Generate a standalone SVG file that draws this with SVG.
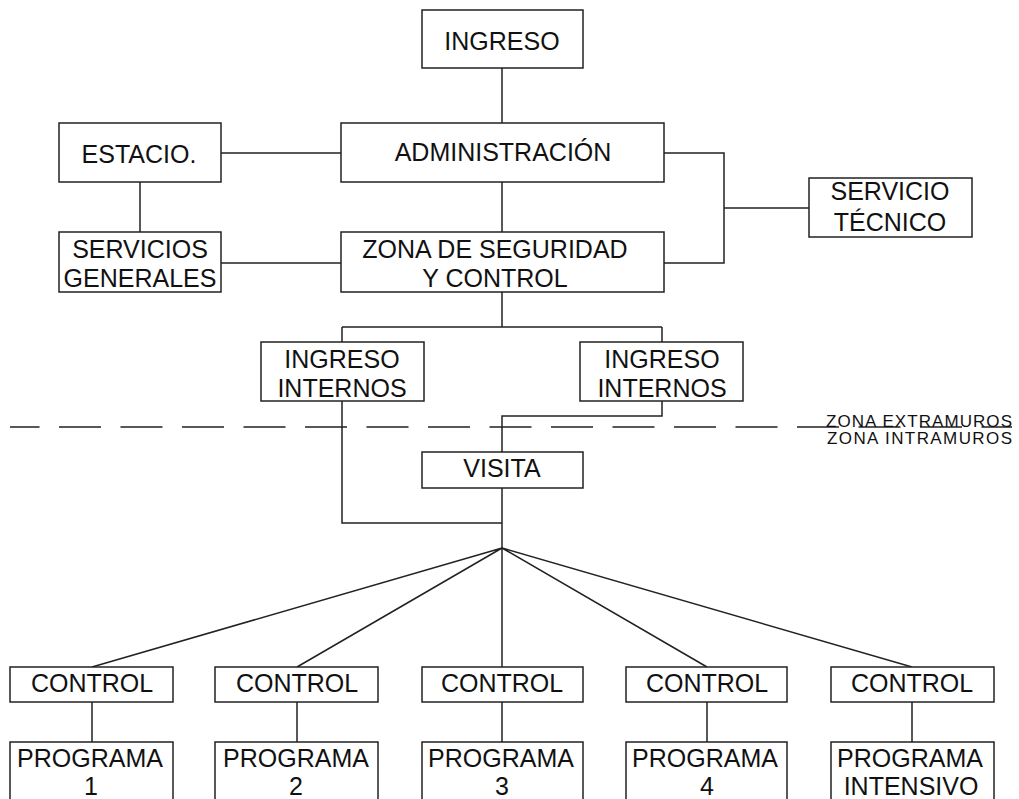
<svg xmlns="http://www.w3.org/2000/svg" width="1019" height="799" viewBox="0 0 1019 799">
<style>
.box{fill:#fff;stroke:#222;stroke-width:1.5}
.t{font-family:"Liberation Sans",Arial,sans-serif;font-size:25px;fill:#111;text-anchor:middle}
.s{font-family:"Liberation Sans",Arial,sans-serif;font-size:17px;fill:#111}
.ln{fill:none;stroke:#222;stroke-width:1.5}
</style>
<rect width="1019" height="799" fill="#fff"/>
<g id="connectors">
<path class="ln" d="M502 68V123M221 153H341M140 182V232M221 263H341M502 182V232"/>
<path class="ln" d="M664 153H724V263H664M724 208H809"/>
<path class="ln" d="M502 292V327M342 327H662M342 327V342M662 327V342"/>
<path class="ln" d="M342 401V523H502M662 401V416H502V452M502 488V548"/>
<path class="ln" d="M502 548L92 667M502 548L297 667M502 548V667M502 548L707 667M502 548L912 667"/>
<path class="ln" d="M92 702V742M297 702V742M502 702V742M707 702V742M912 702V742"/>
<line class="ln" x1="10" y1="427" x2="1012" y2="427" stroke-dasharray="42 19.5" stroke-dashoffset="12.5"/>
</g>
<g id="ingreso"><rect class="box" x="422" y="10" width="161" height="58"/><text class="t" x="502" y="50">INGRESO</text></g>
<g id="administracion"><rect class="box" x="341" y="123" width="323" height="59"/><text class="t" x="503" y="161">ADMINISTRACIÓN</text></g>
<g id="estacio"><rect class="box" x="59" y="123" width="162" height="59"/><text class="t" x="139" y="163">ESTACIO.</text></g>
<g id="servicios-generales"><rect class="box" x="59" y="232" width="162" height="60"/><text class="t" x="140" y="258">SERVICIOS</text><text class="t" x="140" y="287">GENERALES</text></g>
<g id="zona-seguridad"><rect class="box" x="341" y="232" width="323" height="60"/><text class="t" x="495" y="258">ZONA DE SEGURIDAD</text><text class="t" x="495" y="287">Y CONTROL</text></g>
<g id="servicio-tecnico"><rect class="box" x="809" y="178" width="163" height="59"/><text class="t" x="890" y="200">SERVICIO</text><text class="t" x="890" y="231">TÉCNICO</text></g>
<g id="ingreso-internos-1"><rect class="box" x="261" y="342" width="163" height="59"/><text class="t" x="342" y="368">INGRESO</text><text class="t" x="342" y="397">INTERNOS</text></g>
<g id="ingreso-internos-2"><rect class="box" x="580" y="342" width="163" height="59"/><text class="t" x="662" y="368">INGRESO</text><text class="t" x="662" y="397">INTERNOS</text></g>
<g id="zona-labels"><text class="s" x="826" y="427" textLength="186" lengthAdjust="spacing">ZONA EXTRAMUROS</text><text class="s" x="827" y="444" textLength="185" lengthAdjust="spacing">ZONA INTRAMUROS</text></g>
<g id="visita"><rect class="box" x="422" y="452" width="161" height="36"/><text class="t" x="502" y="477">VISITA</text></g>
<g id="control-1"><rect class="box" x="10" y="667" width="163" height="35"/><text class="t" x="92" y="692">CONTROL</text></g>
<g id="control-2"><rect class="box" x="215" y="667" width="163" height="35"/><text class="t" x="297" y="692">CONTROL</text></g>
<g id="control-3"><rect class="box" x="422" y="667" width="161" height="35"/><text class="t" x="502" y="692">CONTROL</text></g>
<g id="control-4"><rect class="box" x="626" y="667" width="161" height="35"/><text class="t" x="707" y="692">CONTROL</text></g>
<g id="control-5"><rect class="box" x="831" y="667" width="163" height="35"/><text class="t" x="912" y="692">CONTROL</text></g>
<g id="programa-1"><rect class="box" x="10" y="742" width="163" height="70"/><text class="t" x="90" y="767">PROGRAMA</text><text class="t" x="91" y="795">1</text></g>
<g id="programa-2"><rect class="box" x="215" y="742" width="163" height="70"/><text class="t" x="296" y="767">PROGRAMA</text><text class="t" x="296" y="795">2</text></g>
<g id="programa-3"><rect class="box" x="422" y="742" width="161" height="70"/><text class="t" x="501" y="767">PROGRAMA</text><text class="t" x="502" y="795">3</text></g>
<g id="programa-4"><rect class="box" x="626" y="742" width="161" height="70"/><text class="t" x="705" y="767">PROGRAMA</text><text class="t" x="707" y="795">4</text></g>
<g id="programa-intensivo"><rect class="box" x="831" y="742" width="163" height="70"/><text class="t" x="910" y="767">PROGRAMA</text><text class="t" x="911" y="795">INTENSIVO</text></g>
</svg>
